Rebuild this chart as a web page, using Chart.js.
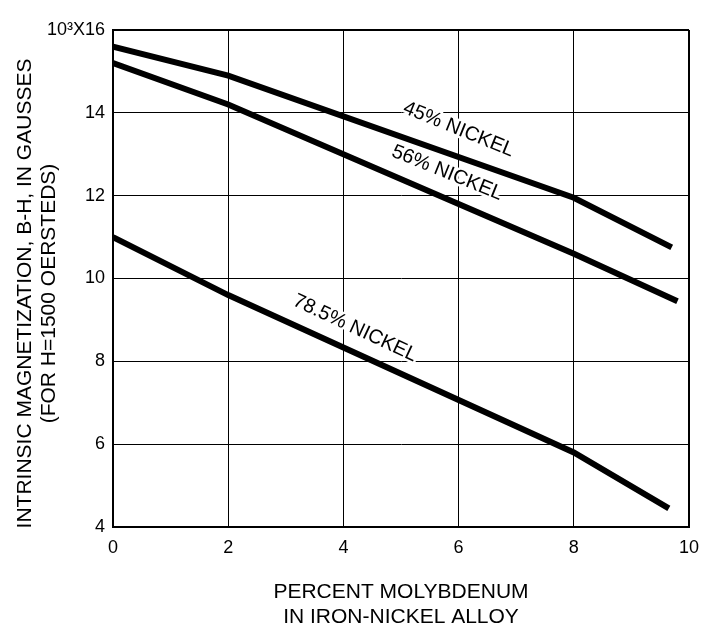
<!DOCTYPE html>
<html>
<head>
<meta charset="UTF-8"/>
<title>Intrinsic magnetization vs molybdenum</title>
<script src="https://cdn.jsdelivr.net/npm/chart.js"></script>
<style>
  body { margin:0; background:#fff; }
  #wrap { width:701px; height:627px; }
</style>
</head>
<body>
<div id="wrap"><canvas id="chart" width="701" height="627"></canvas></div>
<script>
// data (percent Mo -> B-H in thousands of gauss)
const mo45  = [0, 2, 8, 9.7];
const bh45  = [15.6, 14.9, 11.95, 10.75];
const mo56  = [0, 2, 8, 9.8];
const bh56  = [15.2, 14.2, 10.6, 9.45];
const mo785 = [0, 2, 8, 9.65];
const bh785 = [11.0, 9.6, 5.8, 4.45];

const curveNames = ["45% NICKEL", "56% NICKEL", "78.5% NICKEL"];
const nameX = [6.0, 5.8, 4.2];
const nameY = [13.6, 12.55, 8.8];

const xTicks = [0, 2, 4, 6, 8, 10];
const yTicks = [4, 6, 8, 10, 12, 14, 16];

const yTitle = ["INTRINSIC MAGNETIZATION, B-H, IN GAUSSES", "(FOR H=1500 OERSTEDS)"];
const xTitle = ["PERCENT MOLYBDENUM", "IN IRON-NICKEL ALLOY"];

const FONT = "'Liberation Sans', Arial, sans-serif";

function pts(xs, ys){ return xs.map((x,i)=>({x:x, y:ys[i]})); }

// curve names along the lines (white halo breaks the grid like the original)
// plus the y title, which sits a bit below the centre of the axis in the original
const annotate = {
  id: 'annotate',
  afterDatasetsDraw(chart){
    const c = chart.ctx, xs = chart.scales.x, ys = chart.scales.y;
    const ang = [22, 22, 25];
    c.save();
    c.font = "20px " + FONT;
    c.textAlign = "center";
    c.textBaseline = "middle";
    c.lineJoin = "round";
    curveNames.forEach((t,i)=>{
      c.save();
      c.translate(xs.getPixelForValue(nameX[i]), ys.getPixelForValue(nameY[i]));
      c.rotate(ang[i]*Math.PI/180);
      c.strokeStyle = "#fff";
      c.lineWidth = 5;
      c.strokeText(t, 0, 0);
      c.fillStyle = "#000";
      c.fillText(t, 0, 0);
      c.restore();
    });
    c.restore();
  },
  afterDraw(chart){
    const c = chart.ctx, ca = chart.chartArea;
    c.save();
    c.font = "21px " + FONT;
    c.fillStyle = "#000";
    c.textAlign = "center";
    c.textBaseline = "middle";
    c.translate(25, (ca.top + ca.bottom)/2 + 15);
    c.rotate(-Math.PI/2);
    c.fillText(yTitle[0], 0, 0);
    c.fillText(yTitle[1], 0, 24);
    c.restore();
  }
};

const lineStyle = { borderColor:'#000', borderWidth:6, pointRadius:0, tension:0, fill:false };

new Chart(document.getElementById("chart"), {
  type: 'line',
  data: {
    datasets: [
      Object.assign({ label: curveNames[0], data: pts(mo45, bh45) }, lineStyle),
      Object.assign({ label: curveNames[1], data: pts(mo56, bh56) }, lineStyle),
      Object.assign({ label: curveNames[2], data: pts(mo785, bh785) }, lineStyle)
    ]
  },
  options: {
    responsive: false,
    animation: false,
    layout: { padding: { left: 0, top: 30, right: 12, bottom: 0 } },
    plugins: { legend: { display:false }, tooltip: { enabled:false } },
    scales: {
      x: {
        type: 'linear', min: 0, max: 10,
        afterBuildTicks: s => { s.ticks = xTicks.map(v=>({value:v})); },
        afterFit: s => { s.height = 100; s.paddingLeft = 0; s.paddingRight = 0; },
        grid: { color:'#000', lineWidth: c => (c.tick && c.tick.value === 10 ? 2 : 1), drawTicks:false },
        border: { color:'#000', width:2 },
        ticks: { color:'#000', padding:10, font:{ family:FONT, size:18 } },
        title: {
          display:true, color:'#000',
          text: xTitle,
          font:{ family:FONT, size:21, lineHeight:1.2 }, padding:{ top:20, bottom:-3 }
        }
      },
      y: {
        type: 'linear', min: 4, max: 16,
        afterBuildTicks: s => { s.ticks = yTicks.map(v=>({value:v})); },
        afterFit: s => { s.width = 113; s.paddingTop = 0; s.paddingBottom = 0; },
        grid: { color:'#000', lineWidth: c => (c.tick && c.tick.value === 16 ? 2 : 1), drawTicks:false },
        border: { color:'#000', width:2 },
        ticks: {
          color:'#000', padding:8, font:{ family:FONT, size:18 },
          callback: v => (v === 16 ? "10\u00B3X16" : v)
        },
        title: { display:false }
      }
    }
  },
  plugins: [annotate]
});
</script>
</body>
</html>
